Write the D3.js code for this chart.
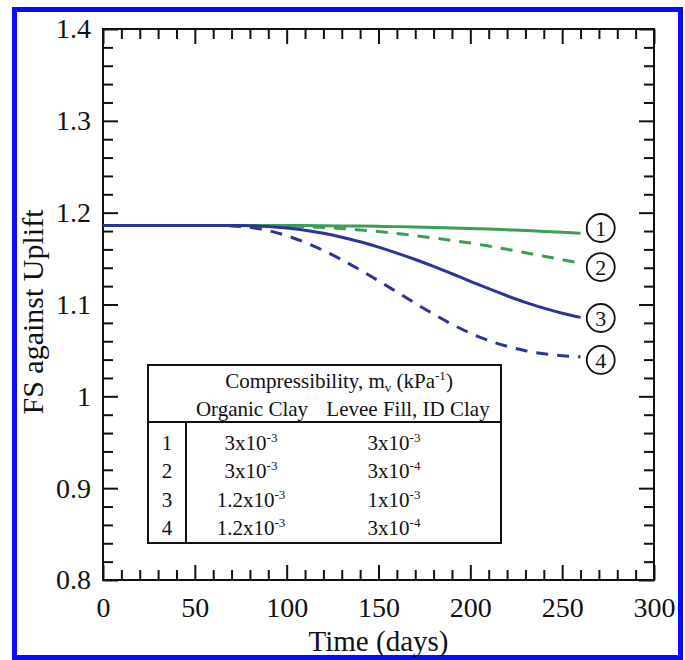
<!DOCTYPE html>
<html>
<head>
<meta charset="utf-8">
<script src="https://cdn.jsdelivr.net/npm/d3@7"></script>
<style>
  html, body { margin: 0; padding: 0; background: #fff; }
  svg text { font-family: "Liberation Serif", "Times New Roman", serif; fill: #111; }
</style>
</head>
<body>
<div id="diagram"></div>
<script>
// - - - - - - - - - -
// data
const days = [0, 10, 20, 30, 40, 50, 60, 70, 80, 90, 100, 110, 120, 130, 140, 150, 160, 170, 180, 190, 200, 210, 220, 230, 240, 250, 260];
const fsCase1 = [1.186, 1.186, 1.186, 1.186, 1.186, 1.186, 1.186, 1.186, 1.186, 1.186, 1.186, 1.1859, 1.1858, 1.1856, 1.1854, 1.1851, 1.1848, 1.1844, 1.1839, 1.1834, 1.1828, 1.1821, 1.1813, 1.1805, 1.1796, 1.1786, 1.1775];
const fsCase2 = [1.186, 1.186, 1.186, 1.186, 1.186, 1.186, 1.186, 1.186, 1.186, 1.1858, 1.1854, 1.1848, 1.1839, 1.1827, 1.1812, 1.1794, 1.1773, 1.175, 1.1725, 1.1698, 1.1669, 1.1636, 1.1601, 1.1564, 1.1526, 1.1488, 1.145];
const fsCase3 = [1.186, 1.186, 1.186, 1.186, 1.186, 1.186, 1.186, 1.186, 1.1857, 1.1848, 1.1832, 1.1808, 1.1775, 1.1733, 1.1683, 1.1625, 1.156, 1.149, 1.1415, 1.1335, 1.1253, 1.1172, 1.1095, 1.1023, 1.096, 1.0905, 1.086];
const fsCase4 = [1.186, 1.186, 1.186, 1.186, 1.186, 1.186, 1.186, 1.1856, 1.184, 1.1805, 1.175, 1.1676, 1.1588, 1.1488, 1.1376, 1.1258, 1.1136, 1.1014, 1.0895, 1.0785, 1.0688, 1.0608, 1.0545, 1.0497, 1.0463, 1.0442, 1.043];

const caseIds = ['1', '2', '3', '4'];
const caseLabelLevels = [1.1833, 1.1408, 1.0853, 1.0396];
const organicMantissa = ['3', '3', '1.2', '1.2'];
const organicExponent = ['-3', '-3', '-3', '-3'];
const leveeMantissa = ['3', '3', '1', '3'];
const leveeExponent = ['-3', '-4', '-3', '-4'];

const xMajorTicks = [0, 50, 100, 150, 200, 250, 300];
const yMajorTicks = [0.8, 0.9, 1, 1.1, 1.2, 1.3, 1.4];

!(function () {
  'use strict';
  let
    svg = undefined,
    x = undefined,
    y = undefined,
    plot = {
      left: 103, right: 654, top: 29, bottom: 580
    },
    green = '#3c9e55',
    blue = '#2b3499',
    drawFrame = undefined,
    drawAxes = undefined,
    drawCurves = undefined,
    drawTable = undefined;

  svg = d3.select('#diagram')
    .append('svg')
    .attr('width', 685)
    .attr('height', 660);

  x = d3.scaleLinear().domain([0, 300]).range([plot.left, plot.right]);
  y = d3.scaleLinear().domain([0.8, 1.4]).range([plot.bottom, plot.top]);

  drawFrame = function () {
    // blue page border
    svg.append('rect')
      .attr('x', 14.5).attr('y', 9.5)
      .attr('width', 666).attr('height', 648)
      .attr('fill', '#fff')
      .attr('stroke', '#0a0aff')
      .attr('stroke-width', 5);
  };

  drawAxes = function () {
    let minorX = d3.range(0, 301, 10).filter(d => d % 50 !== 0),
        minorY = d3.range(0, 31).map(i => 0.8 + i * 0.02).filter((d, i) => i % 5 !== 0),
        sides = [
          { axis: d3.axisBottom, scale: x, pos: 'translate(0,' + plot.bottom + ')', major: xMajorTicks, minor: minorX, labels: true },
          { axis: d3.axisTop, scale: x, pos: 'translate(0,' + plot.top + ')', major: xMajorTicks, minor: minorX, labels: false },
          { axis: d3.axisLeft, scale: y, pos: 'translate(' + plot.left + ',0)', major: yMajorTicks, minor: minorY, labels: true },
          { axis: d3.axisRight, scale: y, pos: 'translate(' + plot.right + ',0)', major: yMajorTicks, minor: minorY, labels: false }
        ];

    sides.forEach(function (s) {
      let gMinor = svg.append('g')
        .attr('transform', s.pos)
        .call(s.axis(s.scale).tickValues(s.minor).tickSize(-10).tickFormat(''));
      let gMajor = svg.append('g')
        .attr('transform', s.pos)
        .call(s.axis(s.scale).tickValues(s.major).tickSize(-15)
          .tickPadding(12)
          .tickFormat(s.labels ? (d => String(d)) : ''));
      [gMinor, gMajor].forEach(function (g) {
        g.select('.domain').remove();
        g.selectAll('line').attr('stroke', '#111').attr('stroke-width', 2);
        g.selectAll('text').attr('font-size', 28).attr('fill', '#111')
          .style('font-family', '"Liberation Serif", "Times New Roman", serif');
      });
      if (s.axis === d3.axisBottom) {
        gMajor.selectAll('text').attr('y', 37).attr('dy', 0);
      }
    });

    svg.append('rect')
      .attr('x', plot.left).attr('y', plot.top)
      .attr('width', plot.right - plot.left).attr('height', plot.bottom - plot.top)
      .attr('fill', 'none')
      .attr('stroke', '#111')
      .attr('stroke-width', 2);

    svg.append('text')
      .attr('x', (plot.left + plot.right) / 2 - 0)
      .attr('y', 651)
      .attr('text-anchor', 'middle')
      .attr('font-size', 29)
      .text('Time (days)');

    svg.append('text')
      .attr('transform', 'translate(43,' + 312 + ') rotate(-90)')
      .attr('text-anchor', 'middle')
      .attr('font-size', 30)
      .text('FS against Uplift');
  };

  drawCurves = function () {
    let line = d3.line()
      .x(d => x(d[0]))
      .y(d => y(d[1]))
      .curve(d3.curveMonotoneX);

    let series = [
      { values: fsCase1, color: green, dash: null },
      { values: fsCase2, color: green, dash: '12,9' },
      { values: fsCase3, color: blue, dash: null },
      { values: fsCase4, color: blue, dash: '12,9' }
    ];

    svg.selectAll('path.curve')
      .data(series)
      .enter()
      .append('path')
      .attr('class', 'curve')
      .attr('d', d => line(days.map((t, i) => [t, d.values[i]])))
      .attr('fill', 'none')
      .attr('stroke', d => d.color)
      .attr('stroke-width', 3)
      .attr('stroke-dasharray', d => d.dash);

    // circled case numbers
    let marks = svg.selectAll('g.mark')
      .data(caseIds)
      .enter()
      .append('g')
      .attr('class', 'mark')
      .attr('transform', (d, i) => 'translate(' + x(271) + ',' + y(caseLabelLevels[i]) + ')');
    marks.append('circle')
      .attr('r', 14)
      .attr('fill', '#fff')
      .attr('stroke', '#111')
      .attr('stroke-width', 1.8);
    marks.append('text')
      .attr('text-anchor', 'middle')
      .attr('dy', '0.35em')
      .attr('font-size', 22)
      .text(d => d);
  };

  drawTable = function () {
    let t = { left: 148, right: 501, top: 365, bottom: 543, header: 422, split: 186 },
        g = svg.append('g'),
        fs = 21,
        rowY = d3.scaleLinear().domain([0, 3]).range([450, 535]);

    g.append('rect')
      .attr('x', t.left).attr('y', t.top)
      .attr('width', t.right - t.left).attr('height', t.bottom - t.top)
      .attr('fill', '#fff')
      .attr('stroke', '#111')
      .attr('stroke-width', 2);
    g.append('line')
      .attr('x1', t.left).attr('x2', t.right)
      .attr('y1', t.header).attr('y2', t.header)
      .attr('stroke', '#111').attr('stroke-width', 2);
    g.append('line')
      .attr('x1', t.split).attr('x2', t.split)
      .attr('y1', t.header).attr('y2', t.bottom)
      .attr('stroke', '#111').attr('stroke-width', 2);

    let title = g.append('text')
      .attr('x', 339).attr('y', 388)
      .attr('text-anchor', 'middle')
      .attr('font-size', fs);
    title.append('tspan').text('Compressibility, m');
    title.append('tspan').attr('font-size', 13).attr('dy', 4).text('v');
    title.append('tspan').attr('dy', -4).text(' (kPa');
    title.append('tspan').attr('font-size', 13).attr('dy', -8).text('-1');
    title.append('tspan').attr('dy', 8).text(')');

    g.append('text')
      .attr('x', 252).attr('y', 416)
      .attr('text-anchor', 'middle')
      .attr('font-size', fs)
      .text('Organic Clay');
    g.append('text')
      .attr('x', 408).attr('y', 416)
      .attr('text-anchor', 'middle')
      .attr('font-size', fs)
      .text('Levee Fill, ID Clay');

    caseIds.forEach(function (id, i) {
      let yy = rowY(i);
      g.append('text')
        .attr('x', 167).attr('y', yy)
        .attr('text-anchor', 'middle')
        .attr('font-size', fs)
        .text(id);

      [[251, organicMantissa[i], organicExponent[i]], [394, leveeMantissa[i], leveeExponent[i]]]
        .forEach(function (c) {
          let cell = g.append('text')
            .attr('x', c[0]).attr('y', yy)
            .attr('text-anchor', 'middle')
            .attr('font-size', fs);
          cell.append('tspan').text(c[1] + 'x10');
          cell.append('tspan').attr('font-size', 13).attr('dy', -8).text(c[2]);
        });
    });
  };

  // control
  drawFrame();
  drawAxes();
  drawCurves();
  drawTable();
  // - - - - - - - - - -
}());
</script>
</body>
</html>
